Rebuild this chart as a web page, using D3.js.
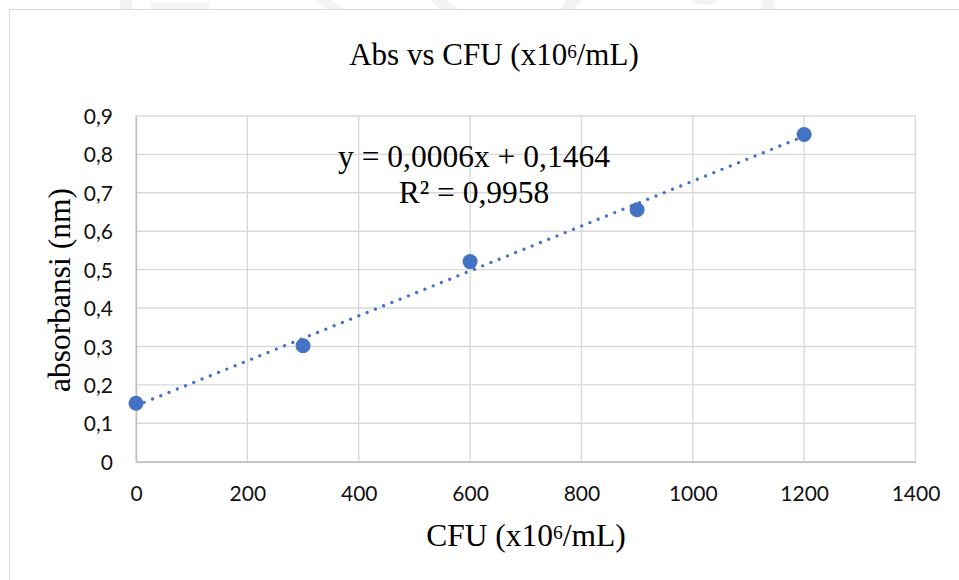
<!DOCTYPE html>
<html>
<head>
<meta charset="utf-8">
<script src="https://cdn.jsdelivr.net/npm/d3@7/dist/d3.min.js"></script>
<style>
  html, body { margin: 0; padding: 0; background: #fff; }
  svg { display: block; }
</style>
</head>
<body>
<svg id="chart" width="959" height="580"></svg>
<script>
// ---- data ----
const cfu = [0, 300, 600, 900, 1200];
const absorbance = [0.152, 0.302, 0.521, 0.656, 0.852];
const xTicks = [0, 200, 400, 600, 800, 1000, 1200, 1400];
const yTicks = [0, 0.1, 0.2, 0.3, 0.4, 0.5, 0.6, 0.7, 0.8, 0.9];
const equationText = "y = 0,0006x + 0,1464";
const r2Text = "R² = 0,9958";

const svg = d3.select("#chart");
const W = 959, H = 580;

// faint watermark shapes above the chart frame
const wm = svg.append("g").attr("fill", "#f3f3f3");
wm.append("rect").attr("x", 120).attr("y", 0).attr("width", 12).attr("height", 9);
wm.append("rect").attr("x", 150).attr("y", 2).attr("width", 60).attr("height", 7).attr("fill", "#f6f6f6");
wm.append("path").attr("d", "M316,0 L332,0 L344,9 L326,9 Z");
wm.append("path").attr("d", "M430,0 L446,0 L458,9 L440,9 Z");
wm.append("path").attr("d", "M566,0 L582,0 L574,9 L560,9 Z");
wm.append("ellipse").attr("cx", 705).attr("cy", 0).attr("rx", 12).attr("ry", 5);
wm.append("rect").attr("x", 762).attr("y", 0).attr("width", 12).attr("height", 9);

// chart frame
svg.append("rect")
  .attr("x", 9.5).attr("y", 9.5)
  .attr("width", W + 20).attr("height", H + 20)
  .attr("fill", "#fff").attr("stroke", "#d9d9d9").attr("stroke-width", 1);

const m = { left: 136, right: 915.5, top: 116, bottom: 461.7 };
const x = d3.scaleLinear().domain([0, 1400]).range([m.left, m.right]);
const y = d3.scaleLinear().domain([0, 0.9]).range([m.bottom, m.top]);

const yFmt = v => (v === 0 ? "0" : d3.format(".1f")(v).replace(".", ","));

// gridlines
const grid = svg.append("g");
grid.selectAll(".vg").data(xTicks).join("line")
  .attr("x1", d => x(d)).attr("x2", d => x(d))
  .attr("y1", m.top).attr("y2", m.bottom)
  .attr("stroke", "#d9d9d9").attr("stroke-width", 1.4);
grid.selectAll(".hg").data(yTicks).join("line")
  .attr("x1", m.left).attr("x2", m.right)
  .attr("y1", d => y(d)).attr("y2", d => y(d))
  .attr("stroke", "#d9d9d9").attr("stroke-width", 1.4);

// axes
const xAxis = svg.append("g")
  .attr("transform", `translate(0,${m.bottom})`)
  .call(d3.axisBottom(x).tickValues(xTicks).tickSize(0).tickPadding(0).tickFormat(d3.format("d")));
xAxis.select(".domain").attr("stroke", "#bfbfbf").attr("stroke-width", 1.4);
xAxis.selectAll("text")
  .attr("y", 39.5).attr("dy", null)
  .attr("font-family", "Lato, 'Open Sans', sans-serif").attr("font-size", 21)
  .attr("fill", "#111");

const yAxis = svg.append("g")
  .attr("transform", `translate(${m.left},0)`)
  .call(d3.axisLeft(y).tickValues(yTicks).tickSize(0).tickPadding(0).tickFormat(yFmt));
yAxis.select(".domain").attr("stroke", "#bfbfbf").attr("stroke-width", 1.4);
yAxis.selectAll("text")
  .attr("x", -23).attr("dy", "0.36em")
  .attr("font-family", "Lato, 'Open Sans', sans-serif").attr("font-size", 21)
  .attr("fill", "#111");

// linear regression trendline computed from data
const n = cfu.length;
const mx = d3.mean(cfu), my = d3.mean(absorbance);
let sxy = 0, sxx = 0;
for (let i = 0; i < n; i++) { sxy += (cfu[i] - mx) * (absorbance[i] - my); sxx += (cfu[i] - mx) ** 2; }
const slope = sxy / sxx, intercept = my - slope * mx;
const xExt = d3.extent(cfu);
svg.append("path")
  .datum(xExt.map(v => [v, intercept + slope * v]))
  .attr("d", d3.line().x(d => x(d[0])).y(d => y(d[1])))
  .attr("fill", "none").attr("stroke", "#4472C4").attr("stroke-width", 3.4)
  .attr("stroke-linecap", "round").attr("stroke-dasharray", "0 8.9");

// markers
svg.selectAll(".pt").data(cfu.map((c, i) => [c, absorbance[i]])).join("circle")
  .attr("cx", d => x(d[0])).attr("cy", d => y(d[1])).attr("r", 7.5)
  .attr("fill", "#4472C4");

// equation label
const serif = "'Liberation Serif', 'Times New Roman', serif";
svg.append("text").attr("x", 474).attr("y", 167).attr("text-anchor", "middle")
  .attr("font-family", serif).attr("font-size", 31.5).attr("fill", "#000").text(equationText);
svg.append("text").attr("x", 474).attr("y", 203).attr("text-anchor", "middle")
  .attr("font-family", serif).attr("font-size", 31.5).attr("fill", "#000").text(r2Text);

// title and axis titles with superscript
function supText(sel, pre, sup, post) {
  sel.append("tspan").text(pre);
  sel.append("tspan").attr("font-size", "0.62em").attr("dy", "-0.36em").text(sup);
  sel.append("tspan").attr("dy", "0.223em").text(post);
}
const title = svg.append("text").attr("x", 494).attr("y", 65).attr("text-anchor", "middle")
  .attr("font-family", serif).attr("font-size", 31).attr("fill", "#000");
supText(title, "Abs vs CFU (x10", "6", "/mL)");

const xl = svg.append("text").attr("x", 526).attr("y", 546).attr("text-anchor", "middle")
  .attr("font-family", serif).attr("font-size", 31.5).attr("fill", "#000");
supText(xl, "CFU (x10", "6", "/mL)");

svg.append("text").attr("transform", "translate(70,290) rotate(-90)").attr("text-anchor", "middle")
  .attr("font-family", serif).attr("font-size", 31.5).attr("fill", "#000").text("absorbansi (nm)");
</script>
</body>
</html>
